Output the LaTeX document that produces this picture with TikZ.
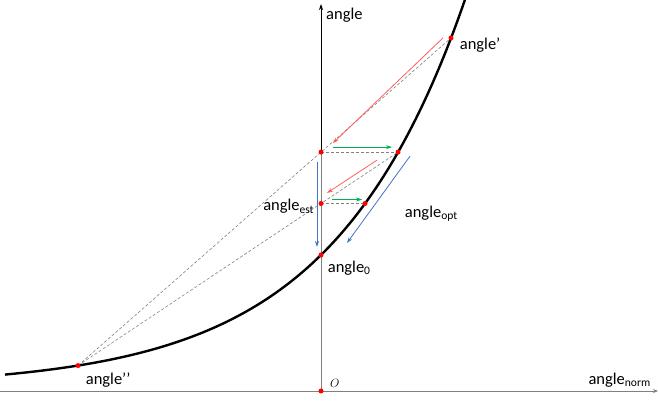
\documentclass[tikz,border=0pt]{standalone}
\usepackage{fontspec}
\setmainfont{Carlito}
\usepackage{xcolor}
\usepackage{tikz}
\usetikzlibrary{positioning, arrows.meta}

\definecolor{hintred}{RGB}{255,95,95}
\definecolor{hintgreen}{RGB}{0,176,80}
\definecolor{hintblue}{RGB}{68,114,196}

\begin{document}
\begin{tikzpicture}[x=1pt, y=1pt,
        dot/.style={circle, fill=red, inner sep=0pt, minimum size=5pt},
        lbl/.style={font=\fontsize{16.5}{20}\selectfont, inner sep=1pt},
        secant/.style={gray, dash pattern=on 3pt off 2pt, line width=0.6pt},
        hint/.style={-{Stealth[length=6pt, width=4pt]}, line width=0.8pt}]
        \useasboundingbox (-321,-10) rectangle (337,391);
%
        \coordinate (O) at (0,0);
        \coordinate (xbeg) at (-321,0);
        \coordinate (xend) at (337,0);
        \coordinate (ytop) at (0,387);
        \coordinate (App) at (-243,25.44);
        \coordinate (Ap) at (130,353.05);
        \coordinate (E2) at (0,238.87);
        \coordinate (P2) at (77.04,238.87);
        \coordinate (E1) at (0,187.49);
        \coordinate (P1) at (44.03,187.49);
        \coordinate (A0) at (0,136);
%	axes
        \draw[gray, line width=0.9pt, -{Stealth[length=5pt, width=4pt]}] (xbeg) -- (xend);
        \draw[gray, line width=0.9pt] (O) -- (E2);
        \draw[line width=0.9pt, -{Stealth[length=6pt, width=4pt]}] (E2) -- (ytop);
%	secants
        \draw[secant] (App) -- (Ap);
        \draw[secant] (App) -- (P2);
        \draw[secant] (E2) -- (P2);
        \draw[secant] (E1) -- (P1);
%	steps
        \draw[hint, hintred] ([shift={(-8,0)}]Ap) -- ([shift={(12,9)}]E2);
        \draw[hint, hintred] ([shift={(-21,-8)}]P2) -- ([shift={(6,10.5)}]E1);
        \draw[hint, hintgreen] ([shift={(12,5)}]E2) -- ([shift={(-6,5)}]P2);
        \draw[hint, hintgreen] ([shift={(11,4)}]E1) -- ([shift={(-3,4)}]P1);
        \draw[hint, hintblue] ([shift={(-4,-10)}]E2) -- ([shift={(-4,8)}]A0);
        \draw[hint, hintblue] ([shift={(12,-4)}]P2) -- ([shift={(26,12)}]A0);
%	curve
        \draw[line width=2.4pt, domain=-316:145, samples=120, smooth]
            plot (\x, {132*exp(0.00748*\x)+4});
%	points
        \node[dot] (o) at (O) {};
        \node[dot] (app) at (App) {};
        \node[dot] (ap) at (Ap) {};
        \node[dot] (e2) at (E2) {};
        \node[dot] (p2) at (P2) {};
        \node[dot] (e1) at (E1) {};
        \node[dot] (p1) at (P1) {};
        \node[dot] (a0) at (A0) {};
%	labels
        \node[lbl, anchor=west] (ylab) at ([shift={(4,-11)}]ytop) {angle};
        \node[lbl, right=5pt of ap, yshift=-7pt] (aplab) {angle’};
        \node[lbl, right=4pt of app, yshift=-15pt] (applab) {angle’’};
        \node[lbl, left=3pt of e1, yshift=-3pt] (estlab) {angle\textsubscript{est}};
        \node[lbl, right=36pt of p1, yshift=-10pt] (optlab) {angle\textsubscript{opt}};
        \node[lbl, right=3pt of a0, yshift=-13pt] (a0lab) {angle\textsubscript{0}};
        \node[font=\fontsize{13}{15}\selectfont, right=3pt of o, yshift=8pt] (olab) {$O$};
        \node[lbl, left=6pt of xend, yshift=11pt] (xlab) {angle\textsubscript{norm}};
\end{tikzpicture}
\end{document}
